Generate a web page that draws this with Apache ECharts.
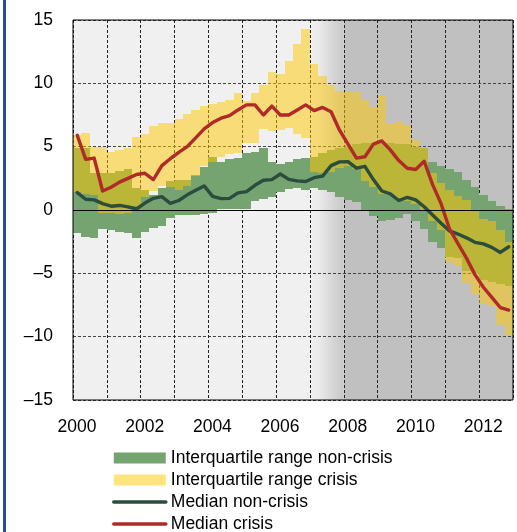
<!DOCTYPE html>
<html>
<head>
<meta charset="utf-8">
<script src="https://cdn.jsdelivr.net/npm/echarts@6/dist/echarts.min.js"></script>
<style>
  html, body { margin: 0; padding: 0; background: #fff; }
  #main { width: 517px; height: 532px; }
</style>
</head>
<body>
<div id="main"></div>
<script>
// quarterly data, 2000Q1 .. 2012Q4
const firstYear = 2000
const lastYear = 2012

// interquartile range, non-crisis countries
const nonCrisisHigh = [4.9, 4.9, 2.9, 2.9, 2.9, 3.1, 3.2, 1.7, 1.6, 1.2,
  1.7, 2.3, 2.4, 2.4, 2.8, 3.4, 4.2, 3.8, 4.0, 4.1,
  4.5, 4.6, 4.9, 3.8, 3.6, 3.8, 4.0, 4.1, 4.2, 4.5,
  4.7, 4.9, 5.0, 5.2, 5.3, 5.3, 5.3, 5.3, 5.2, 5.2,
  5.0, 4.9, 3.8, 3.5, 3.25, 3.0, 2.4, 1.8, 1.2, 0.7,
  0.35, 0.1]
const nonCrisisLow = [-1.8, -2.1, -2.2, -1.5, -1.6, -1.7, -1.8, -2.2, -1.7, -1.4,
  -1.3, -0.6, -0.4, -0.4, -0.4, -0.3, -0.2, 0.1, 0.05, 0.05,
  0.1, 0.7, 0.9, 1.05, 1.4, 1.65, 1.7, 1.6, 1.7, 1.6,
  1.45, 1.05, 0.8, 0.65, 0.0, -0.5, -0.9, -0.8, -0.6, -0.3,
  -0.9, -1.5, -2.5, -3.0, -3.7, -3.8, -4.8, -5.0, -5.5, -5.7,
  -5.85, -6.0]

// interquartile range, crisis countries
const crisisHigh = [5.9, 6.1, 5.0, 5.0, 4.6, 4.7, 4.9, 5.8, 6.0, 6.6,
  6.9, 6.9, 7.2, 7.6, 7.9, 8.2, 8.4, 8.5, 8.7, 9.2,
  8.6, 9.2, 9.9, 10.9, 10.7, 11.8, 13.1, 14.3, 11.5, 10.6,
  9.9, 9.4, 9.3, 9.3, 8.7, 8.1, 9.0, 6.9, 7.0, 6.7,
  5.5, 4.9, 2.9, 2.1, 1.6, 1.1, 0.8, 0.0, -0.7, -0.9,
  -1.6, -2.5]
const crisisLow = [1.4, 1.3, 1.2, -0.2, -0.2, -0.3, -0.2, 0.3, 1.0, 1.5,
  1.9, 1.8, 1.6, 1.9, 2.7, 3.5, 3.8, 4.2, 4.4, 4.5,
  5.3, 5.3, 6.4, 6.2, 6.3, 6.5, 6.0, 5.7, 3.0, 2.9,
  3.0, 3.3, 3.5, 3.2, 2.3, 1.8, 1.3, 1.2, 0.8, 0.7,
  0.5, 0.0, -0.9, -1.6, -4.1, -4.4, -5.8, -6.6, -7.4, -7.6,
  -9.1, -9.9]

// medians
const medianNonCrisis = [1.37, 0.85, 0.8, 0.5, 0.3, 0.36, 0.25, 0.08, 0.55, 0.92,
  1.05, 0.53, 0.75, 1.2, 1.55, 1.9, 1.08, 0.9, 0.92, 1.35,
  1.45, 1.95, 2.35, 2.4, 2.84, 2.42, 2.3, 2.25, 2.55, 2.68,
  3.5, 3.8, 3.82, 3.3, 3.45, 2.4, 1.5, 1.27, 0.75, 1.0,
  0.8, 0.26, -0.4, -1.05, -1.65, -1.9, -2.2, -2.55, -2.68, -2.95,
  -3.35, -2.9]
const medianCrisis = [5.9, 4.0, 4.1, 1.5, 1.8, 2.2, 2.5, 2.8, 2.9, 2.4,
  3.5, 4.05, 4.55, 5.0, 5.7, 6.4, 6.9, 7.25, 7.45, 7.9,
  8.3, 8.3, 7.5, 8.2, 7.5, 7.5, 7.9, 8.3, 7.85, 8.1,
  7.75, 6.3, 5.2, 4.1, 4.2, 5.2, 5.45, 4.75, 3.9, 3.3,
  3.2, 3.85, 2.0, 0.5, -1.5, -2.65, -3.8, -5.1, -6.1, -6.9,
  -7.7, -7.9]

const yearTicks = [2000, 2002, 2004, 2006, 2008, 2010, 2012]

// quarter start positions on the time axis
const quarterStart = []
for (let y = firstYear; y <= lastYear; y++) {
  for (let q = 0; q < 4; q++) quarterStart.push(y + q / 4)
}

const fontFamily = '"Liberation Sans", Arial, sans-serif'

function bandData(low, high) {
  return quarterStart.map((x, i) => [x, low[i], high[i]])
}
function lineData(vals) {
  return quarterStart.map((x, i) => [x + 0.125, vals[i]])
}

// one rectangle per quarter, snapped to whole pixels so that neighbours don't leave seams
function bandItem(params, api) {
  const x0 = api.value(0)
  const a = api.coord([x0, api.value(2)])
  const b = api.coord([x0 + 0.25, api.value(1)])
  const x = Math.round(a[0])
  const y = Math.round(a[1])
  return {
    type: 'rect',
    shape: { x: x, y: y, width: Math.round(b[0]) - x, height: Math.round(b[1]) - y },
    style: { fill: api.visual('color') }
  }
}

const minusFmt = v => v < 0 ? '\u2013' + Math.abs(v) : String(v)

const eChartsContainer = document.getElementById('main')
const myChart = echarts.init(eChartsContainer, null, { renderer: 'canvas' })

myChart.setOption({
  animation: false,
  backgroundColor: '#fff',
  textStyle: { fontFamily: fontFamily },
  graphic: [{
    type: 'rect', left: 3, top: 0, shape: { width: 3, height: 532 },
    style: { fill: '#1f4f9f' }, silent: true
  }],
  grid: {
    left: 73, top: 20, right: 4, bottom: 132,
    show: true, backgroundColor: 'transparent',
    borderColor: '#000', borderWidth: 1, z: 6
  },
  legend: {
    orient: 'vertical', left: 112, top: 449, height: 120, padding: 0,
    itemWidth: 52, itemHeight: 11, itemGap: 4,
    selectedMode: false,
    textStyle: { fontSize: 17.5, lineHeight: 17, color: '#000', fontFamily: fontFamily },
    data: [
      { name: 'Interquartile range non-crisis', icon: 'rect' },
      { name: 'Interquartile range crisis', icon: 'rect' },
      { name: 'Median non-crisis', itemStyle: { opacity: 0 }, lineStyle: { width: 3.6, cap: 'round' } },
      { name: 'Median crisis', itemStyle: { opacity: 0 }, lineStyle: { width: 3.6, cap: 'round' } }
    ]
  },
  xAxis: {
    type: 'value', min: 2000, max: 2013, interval: 1, z: 1.5,
    axisLine: { show: false }, axisTick: { show: false },
    axisLabel: {
      fontSize: 17.5, color: '#000', margin: 18, padding: [0, 0, 0, 8],
      formatter: v => yearTicks.indexOf(v) >= 0 ? String(v) : ''
    },
    splitLine: { show: true, lineStyle: { color: '#222', width: 1, type: [3, 2] } }
  },
  yAxis: {
    type: 'value', min: -15, max: 15, interval: 5, z: 1.5,
    axisLine: { show: false }, axisTick: { show: false },
    axisLabel: { fontSize: 17.5, color: '#000', margin: 20, formatter: minusFmt },
    splitLine: { show: true, lineStyle: { color: '#444', width: 1, type: [3, 2] } }
  },
  series: [
    {
      // background shading: pre-crisis light, crisis period grey
      type: 'line', data: [], silent: true,
      markArea: {
        silent: true, z: 1,
        data: [
          [{ xAxis: 2000, itemStyle: { color: '#f0f0f0' } }, { xAxis: 2007 }],
          [{
            xAxis: 2007,
            itemStyle: {
              color: new echarts.graphic.LinearGradient(0, 0, 1, 0, [
                { offset: 0, color: '#f0f0f0' },
                { offset: 0.25, color: '#ebebeb' },
                { offset: 1, color: '#c6c6c6' }
              ])
            }
          }, { xAxis: 2008 }],
          [{ xAxis: 2008, itemStyle: { color: '#c0c0c0' } }, { xAxis: 2013 }]
        ]
      }
    },
    {
      name: 'Interquartile range non-crisis', type: 'custom', z: 2,
      itemStyle: { color: '#76a471' },
      encode: { x: 0, y: [1, 2] },
      renderItem: bandItem,
      data: bandData(nonCrisisLow, nonCrisisHigh)
    },
    {
      name: 'Interquartile range crisis', type: 'custom', z: 3,
      itemStyle: { color: 'rgba(255,200,0,0.5)' },
      encode: { x: 0, y: [1, 2] },
      renderItem: bandItem,
      data: bandData(crisisLow, crisisHigh)
    },
    {
      name: 'Median non-crisis', type: 'line', z: 4,
      symbol: 'none', color: '#2b4d3d',
      lineStyle: { width: 3.4, color: '#2b4d3d', join: 'round', cap: 'round' },
      data: lineData(medianNonCrisis),
      markLine: {
        silent: true, symbol: 'none', z: 5,
        label: { show: false },
        lineStyle: { color: '#000', width: 1, type: 'solid' },
        data: [{ yAxis: 0 }]
      }
    },
    {
      name: 'Median crisis', type: 'line', z: 4,
      symbol: 'none', color: '#b02a2a',
      lineStyle: { width: 3.4, color: '#b02a2a', join: 'round', cap: 'round' },
      data: lineData(medianCrisis)
    }
  ]
})
</script>
</body>
</html>
